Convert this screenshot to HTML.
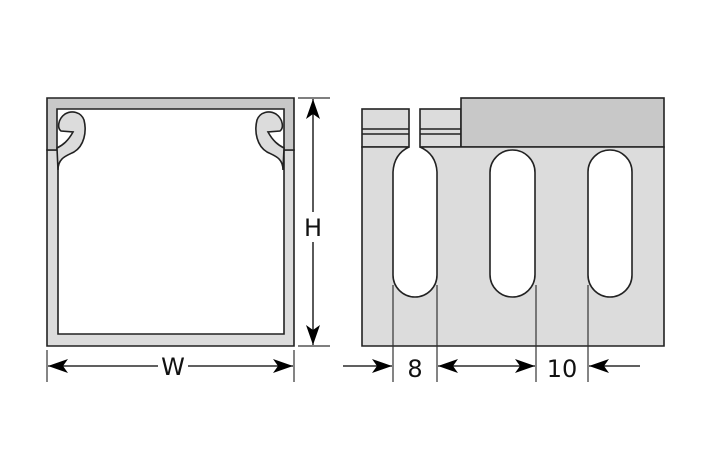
<!DOCTYPE html><html><head><style>body{margin:0;background:#fff}svg{display:block}text{font-family:"DejaVu Sans","Liberation Sans",sans-serif;font-size:24px;fill:#111}</style></head><body>
<svg width="709" height="472" viewBox="0 0 709 472">
<defs><marker id="a" viewBox="0 0 20 14" refX="20" refY="7" markerWidth="20" markerHeight="14" markerUnits="userSpaceOnUse" orient="auto"><path d="M0,0 L20,7 L0,14 L5,7z" fill="#000"/></marker></defs>
<g stroke="#222" stroke-width="1.6">
<path d="M47,150 L47,346 L294,346 L294,150 L284,150 L284,334 L58,334 L58,150 Z" fill="#dcdcdc"/>
<path d="M47,98 L294,98 L294,150 L284,150 L284,109 L57,109 L57,150 L47,150 Z" fill="#c8c8c8"/>
<path d="M58,170 C58,158 66,156 74,152 C84,146 87,132 84,120 C81,112 72,110 65,114 C58,119 57,128 61,131 L73,132 C68,141 63,145 57,148 Z" fill="#dcdcdc"/>
<path d="M283,170 C283,158 275,156 267,152 C257,146 254,132 257,120 C260,112 269,110 276,114 C283,119 284,128 280,131 L268,132 C273,141 278,145 284,148 Z" fill="#dcdcdc"/>
<rect x="362" y="109" width="47" height="38" fill="#dcdcdc"/>
<rect x="420" y="109" width="41" height="38" fill="#dcdcdc"/>
<line x1="362" y1="129" x2="409" y2="129"/><line x1="362" y1="134" x2="409" y2="134"/>
<line x1="420" y1="129" x2="461" y2="129"/><line x1="420" y1="134" x2="461" y2="134"/>
<rect x="461" y="98" width="203" height="49" fill="#c8c8c8"/>
<path d="M362,147 L409,147 Q394,154 393,172 L393,275 A22,22 0 0 0 437,275 L437,172 Q436,154 420,147 L664,147 L664,346 L362,346 Z" fill="#dcdcdc"/>
<rect x="490" y="150" width="45" height="147" rx="22.5" fill="#fff"/>
<rect x="588" y="150" width="44" height="147" rx="22" fill="#fff"/>
</g>
<g stroke="#333" stroke-width="1.2" fill="none">
<line x1="47" y1="350" x2="47" y2="382"/><line x1="294" y1="350" x2="294" y2="382"/>
<line x1="298" y1="98" x2="330" y2="98"/><line x1="298" y1="346" x2="330" y2="346"/>
<line x1="393" y1="285" x2="393" y2="382"/><line x1="437" y1="285" x2="437" y2="382"/>
<line x1="536" y1="285" x2="536" y2="382"/><line x1="588" y1="285" x2="588" y2="382"/>
</g>
<g stroke="#000" stroke-width="1.3">
<line x1="158" y1="366" x2="48" y2="366" marker-end="url(#a)"/>
<line x1="188" y1="366" x2="293" y2="366" marker-end="url(#a)"/>
<line x1="313" y1="212" x2="313" y2="99" marker-end="url(#a)"/>
<line x1="313" y1="242" x2="313" y2="345" marker-end="url(#a)"/>
<line x1="343" y1="366" x2="392" y2="366" marker-end="url(#a)"/>
<line x1="486" y1="366" x2="438" y2="366" marker-end="url(#a)"/>
<line x1="486" y1="366" x2="535" y2="366" marker-end="url(#a)"/>
<line x1="640" y1="366" x2="589" y2="366" marker-end="url(#a)"/>
</g>
<text x="173" y="375" text-anchor="middle">W</text>
<text x="313" y="236" text-anchor="middle">H</text>
<text x="415" y="377" text-anchor="middle">8</text>
<text x="562" y="377" text-anchor="middle">10</text>
</svg></body></html>
